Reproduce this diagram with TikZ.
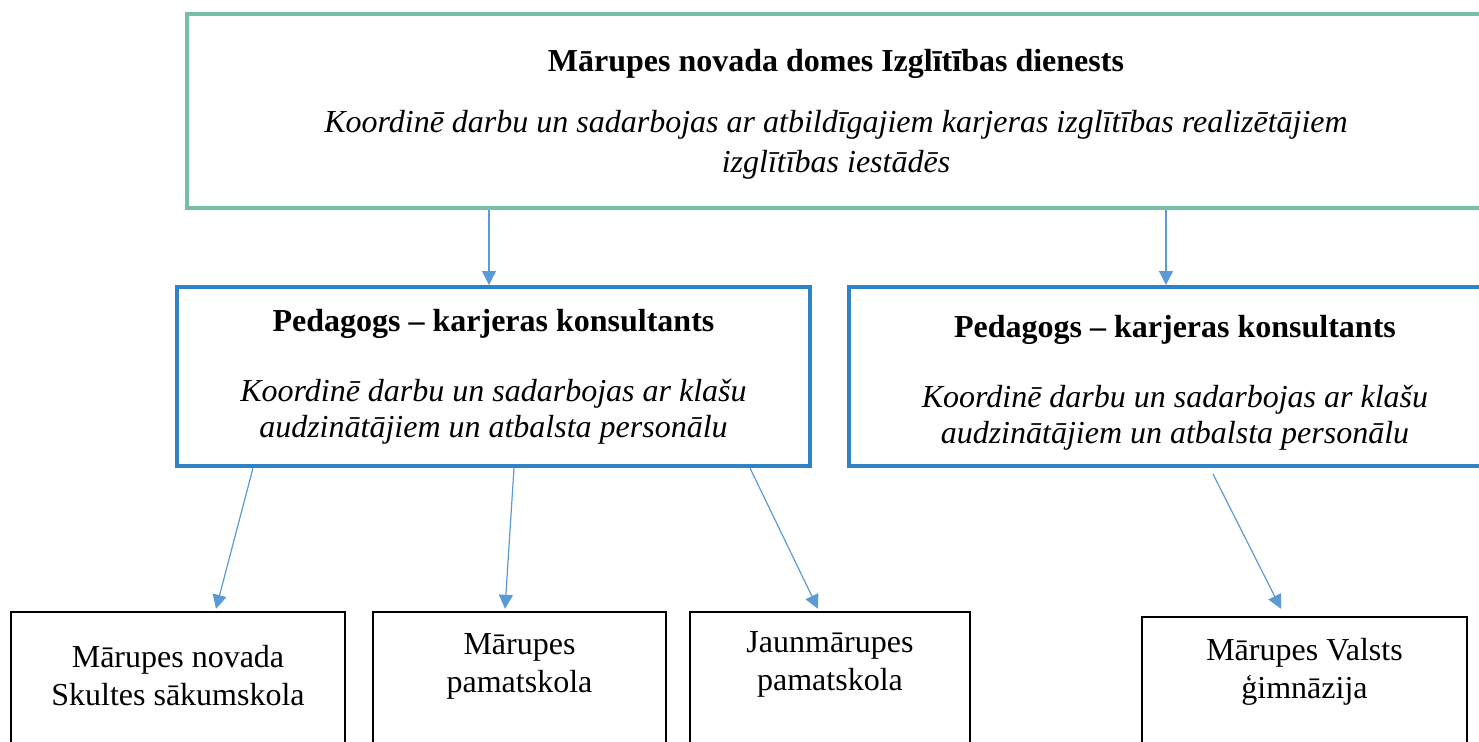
\documentclass[tikz,border=0pt]{standalone}
\usepackage{fontspec}
\setmainfont{Liberation Serif}
\usetikzlibrary{arrows.meta,calc}
\definecolor{dgreen}{HTML}{78BFA5}
\definecolor{pblue}{HTML}{2E83C6}
\definecolor{lblue}{HTML}{5B9BD5}
\begin{document}
\begin{tikzpicture}[x=0.5pt,y=-0.5pt,
    dbox/.style={draw=dgreen, line width=2pt, minimum width=649pt, minimum height=97pt, align=center, inner sep=0pt, font=\fontsize{16}{20}\selectfont},
    pbox/.style={draw=pblue, line width=2pt, minimum height=89.5pt, align=center, inner sep=0pt, font=\fontsize{16}{18}\selectfont},
    sbox/.style={draw, line width=1.2pt, minimum height=69pt, inner sep=0pt},
    stext/.style={align=center, inner sep=0pt, font=\fontsize{16}{19}\selectfont},
    link/.style={draw=lblue, line width=0.6pt, -{Triangle[length=7pt,width=7pt]}}]
  \useasboundingbox (0,0) rectangle (1479,741);
  \node[dbox] (dien) at (836,111) {\rule{0pt}{14pt}\textbf{Mārupes novada domes Izglītības dienests}\\[10.5pt] \textit{Koordinē darbu un sadarbojas ar atbildīgajiem karjeras izglītības realizētājiem}\\ \textit{izglītības iestādēs}};
  \node[pbox, minimum width=316.5pt] (pedL) at (493.5,376.5) {\textbf{Pedagogs – karjeras konsultants}\\[17pt] \textit{Koordinē darbu un sadarbojas ar klašu}\\ \textit{audzinātājiem un atbalsta personālu}};
  \node[pbox, minimum width=326pt] (pedR) at (1175,376.5) {\rule{0pt}{17pt}\textbf{Pedagogs – karjeras konsultants}\\[17pt] \textit{Koordinē darbu un sadarbojas ar klašu}\\ \textit{audzinātājiem un atbalsta personālu}};
  \node[sbox, minimum width=167pt] (skulte) at (178,681) {};
  \node[sbox, minimum width=146.5pt] (mpam) at (519.5,681) {};
  \node[sbox, minimum width=140pt] (jpam) at (830,681) {};
  \node[sbox, minimum width=162.5pt, minimum height=66.5pt] (gimn) at (1304.5,683.5) {};
  \node[stext] (skulteT) at ($(skulte.north)+(0,65)$) {Mārupes novada\\ Skultes sākumskola};
  \node[stext] (mpamT) at ($(mpam.north)+(0,56)$) {Mārupes\\ pamatskola};
  \node[stext] (jpamT) at ($(jpam.north)+(0,54)$) {Jaunmārupes\\ pamatskola};
  \node[stext] (gimnT) at ($(gimn.north)+(0,56)$) {Mārupes Valsts\\ ģimnāzija};
  \draw[link] ($(dien.south)+(-347,0)$) -- ($(pedL.north)+(-4.5,0)$);
  \draw[link] ($(dien.south)+(330,0)$) -- ($(pedR.north)+(-9,0)$);
  \draw[link] ($(pedL.south)+(-240.5,0)$) -- ($(skulte.north)+(38,-2)$);
  \draw[link] ($(pedL.south)+(20.5,0)$) -- ($(mpam.north)+(-14.5,-2)$);
  \draw[link] ($(pedL.south)+(256.5,0)$) -- ($(jpam.north)+(-12,-2)$);
  \draw[link] ($(pedR.south)+(38,6)$) -- ($(gimn.north)+(-23.5,-7)$);
\end{tikzpicture}
\end{document}
